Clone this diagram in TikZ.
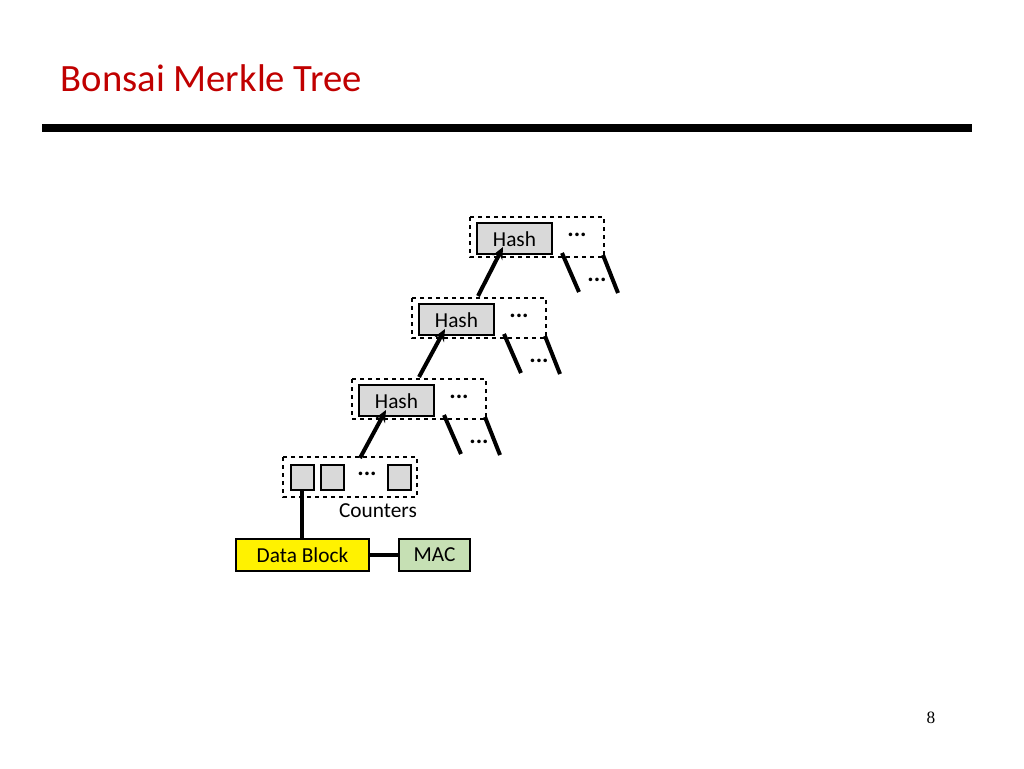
\documentclass[tikz,border=0pt]{standalone}
\usepackage{fontspec}
\usetikzlibrary{arrows.meta}
\setmainfont{Carlito}
\newfontfamily\seriffont{Liberation Serif}
\definecolor{titlered}{RGB}{192,0,0}
\definecolor{cellgray}{RGB}{217,217,217}
\definecolor{macgreen}{RGB}{198,224,180}
\begin{document}
\begin{tikzpicture}[x=0.75pt,y=-0.75pt,
  grp/.style={draw,dashed,line width=0.8pt},
  hashbox/.style={draw,fill=cellgray,line width=1pt},
  cell/.style={draw,fill=cellgray,line width=0.8pt},
  thickln/.style={line width=3pt},
  lbl/.style={font=\fontsize{16}{18}\selectfont},
  dts/.style={font=\fontsize{18}{18}\selectfont\bfseries}]
\useasboundingbox (0,0) rectangle (1024,768);
\node[anchor=west,text=titlered,font=\fontsize{29}{32}\selectfont] (title) at (56,78) {Bonsai Merkle Tree};
\fill (42,124) rectangle (972,132);
\node[font=\seriffont\fontsize{13}{14}\selectfont] (pg) at (931,718) {8};
% groups
\foreach \n/\x/\y in {g1/470/217,g2/412/298,g3/352/379}{
  \draw[grp] (\x,\y) rectangle ++(134,40);
}
\foreach \n/\x/\y in {h1/477/223,h2/419/304,h3/359/385}{
  \draw[hashbox] (\x,\y) rectangle ++(75,31);
  \node[lbl] (\n) at (\x+37.5,\y+16) {Hash};
  \node[dts] at (\x+100,\y+12) {...};
  \draw[thickln] (\x+85,\y+30) -- ++(17,39);
  \draw[thickln] (\x+126,\y+32) -- ++(15,38);
  \node[dts] at (\x+120,\y+57) {...};
}
\coordinate (a1s) at (478,296); \coordinate (a1e) at (503,247);
\coordinate (a2s) at (419,377); \coordinate (a2e) at (445,329);
\coordinate (a3s) at (360,458); \coordinate (a3e) at (386,410);
\foreach \s/\e in {a1s/a1e,a2s/a2e,a3s/a3e}
  \draw[thickln,-{Stealth[length=9pt,width=8pt]}] (\s) -- (\e);
% counters
\draw[grp] (283,457) rectangle (417,497);
\draw[cell] (291,465) rectangle (314,490);
\draw[cell] (321,465) rectangle (344,490);
\draw[cell] (388,465) rectangle (411,490);
\node[dts] at (367,474) {...};
\node[lbl] (cnt) at (378,511) {Counters};
\node[draw,fill=yellow,line width=0.8pt,minimum width=133*0.75pt,minimum height=32*0.75pt,lbl,inner sep=0pt] (db) at (302.5,555) {Data Block};
\node[draw,fill=macgreen,line width=0.8pt,minimum width=71*0.75pt,minimum height=32*0.75pt,lbl,inner sep=0pt] (mac) at (434.5,555) {MAC};
\coordinate (c1) at (302,490);
\draw[thickln] (c1) -- (db.north -| c1);
\draw[thickln] (db) -- (mac);
\end{tikzpicture}
\end{document}
